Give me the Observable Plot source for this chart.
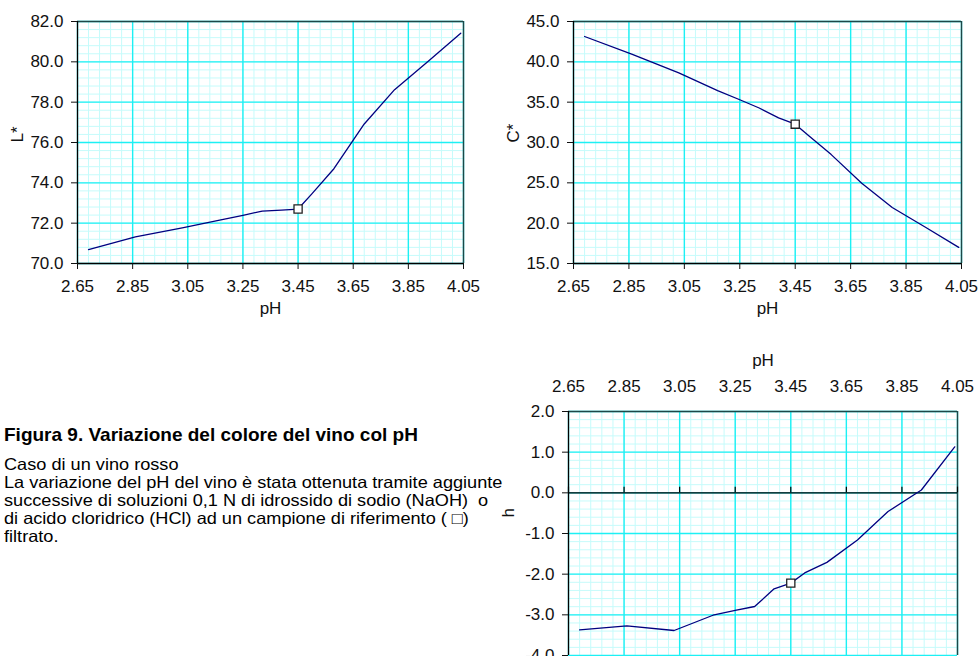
<!DOCTYPE html>
<html><head><meta charset="utf-8">
<script src="https://cdn.jsdelivr.net/npm/d3@7"></script>
<script src="https://cdn.jsdelivr.net/npm/@observablehq/plot@0.6"></script>
<style>
html,body{margin:0;padding:0;background:#fff}
body{width:978px;height:656px;overflow:hidden;position:relative;font-family:"Liberation Sans",Arial,sans-serif;color:#000}
.panel{position:absolute}
#title{position:absolute;left:4px;top:424px;font-weight:bold;font-size:19px;line-height:22px;white-space:nowrap}
#caption{position:absolute;left:4px;top:455px;font-size:16.5px;line-height:18px;white-space:nowrap;transform:scaleX(1.10);transform-origin:0 0}
</style></head><body>
<div id="p1" class="panel" style="left:0;top:0"></div>
<div id="p2" class="panel" style="left:490px;top:0"></div>
<div id="p3" class="panel" style="left:490px;top:340px"></div>
<div id="title">Figura 9. Variazione del colore del vino col pH</div>
<div id="caption">Caso di un vino rosso<br>La variazione del pH del vino è stata ottenuta tramite aggiunte<br>successive di soluzioni 0,1 N di idrossido di sodio (NaOH)&nbsp; o<br>di acido cloridrico (HCl) ad un campione di riferimento ( □)<br>filtrato.</div>
<script>
// ---- data ----
const pH    = [2.69, 2.86, 3.03, 3.17, 3.25, 3.32, 3.39, 3.45, 3.50, 3.58, 3.69, 3.80, 3.92, 4.04];
const Lstar = [70.69, 71.32, 71.77, 72.16, 72.39, 72.60, 72.65, 72.70, 73.45, 74.70, 76.92, 78.62, 80.00, 81.42];
const Cstar = [43.14, 40.96, 38.62, 36.43, 35.30, 34.28, 33.05, 32.27, 30.80, 28.50, 24.95, 21.95, 19.50, 17.00];
const hue   = [-3.37, -3.27, -3.385, -3.01, -2.89, -2.795, -2.36, -2.22, -1.97, -1.71, -1.16, -0.46, 0.07, 1.13];
const refPH = 3.45;
const xTicks = [2.65, 2.85, 3.05, 3.25, 3.45, 3.65, 3.85, 4.05];
const LTicks = [70, 72, 74, 76, 78, 80, 82];
const CTicks = [15, 20, 25, 30, 35, 40, 45];
const hTicks = [-4, -3, -2, -1, 0, 1, 2];

const rows = pH.map((p, i) => ({pH: p, L: Lstar[i], C: Cstar[i], h: hue[i]}));
const minor = (lo, hi, n) => d3.range(0, n + 1).map(i => lo + (hi - lo) * i / n);
const fmt1 = d => d.toFixed(1);
const fmt2 = d => d.toFixed(2);

const MINOR = "#c6fbfb", MAJOR = "#1cf0f4", FRAME = "#1d4848", LINE = "#000080";
const style = {fontFamily: "Liberation Sans, Arial, sans-serif", fontSize: "17px", color: "#111", background: "transparent", overflow: "visible"};

function panel({key, yTicks, yMinorN, yLabel, width, height, margin, xTop, yLabelDy = 0, pHdy}) {
  const y0 = yTicks[0], y1 = yTicks[yTicks.length - 1];
  const marks = [
    Plot.ruleX(minor(2.65, 4.05, 35), {stroke: MINOR, strokeWidth: 1}),
    Plot.ruleY(minor(y0, y1, yMinorN), {stroke: MINOR, strokeWidth: 1}),
    Plot.ruleX(xTicks, {stroke: MAJOR, strokeWidth: 1.4}),
    Plot.ruleY(yTicks, {stroke: MAJOR, strokeWidth: 1.4}),
    Plot.ruleY([y1], {stroke: FRAME, strokeWidth: 1.4}),
    Plot.ruleX([4.05], {stroke: FRAME, strokeWidth: 1.4}),
    Plot.ruleX([2.65], {stroke: "#000", strokeWidth: 1.3}),
    Plot.axisY(yTicks, {tickSize: 6, tickPadding: 8, tickFormat: fmt1, label: null}),
    Plot.text([yLabel], {text: d => d, frameAnchor: "left", dx: -60, dy: yLabelDy, rotate: -90, fontSize: 17})
  ];
  if (!xTop) {
    marks.push(
      Plot.ruleY([y0], {stroke: "#000", strokeWidth: 1.3}),
      Plot.axisX(xTicks, {anchor: "bottom", tickSize: 6, tickPadding: 10, tickFormat: fmt2, label: null}),
      Plot.text(["pH"], {text: d => d, frameAnchor: "bottom", dy: pHdy, fontSize: 17})
    );
  } else {
    marks.push(
      Plot.ruleY([0], {stroke: "#000", strokeWidth: 1.3}),
      Plot.ruleX(xTicks, {y1: 0, y2: 0.14, stroke: "#000", strokeWidth: 1.2}),
      Plot.axisX(xTicks, {anchor: "top", tickSize: 0, tickPadding: 20, tickFormat: fmt2, label: null}),
      Plot.text(["pH"], {text: d => d, frameAnchor: "top", dy: pHdy, fontSize: 17})
    );
  }
  marks.push(
    Plot.line(rows, {x: "pH", y: key, stroke: LINE, strokeWidth: 1.3}),
    Plot.dot(rows.filter(d => d.pH === refPH), {x: "pH", y: key, symbol: "square", r: 4.6, fill: "white", stroke: "#222", strokeWidth: 1.3})
  );
  return Plot.plot({
    width, height,
    marginLeft: margin[0], marginRight: margin[1], marginTop: margin[2], marginBottom: margin[3],
    style,
    x: {domain: [2.65, 4.05]},
    y: {domain: [y0, y1]},
    marks
  });
}

document.getElementById("p1").append(panel({
  key: "L", yTicks: LTicks, yMinorN: 30, yLabel: "L*", width: 490, height: 330, margin: [77, 27, 21, 67], pHdy: 50
}));
document.getElementById("p2").append(panel({
  key: "C", yTicks: CTicks, yMinorN: 30, yLabel: "C*", width: 488, height: 330, margin: [83, 17, 21, 67], pHdy: 50
}));
document.getElementById("p3").append(panel({
  key: "h", yTicks: hTicks, yMinorN: 30, yLabel: "h", width: 488, height: 316, margin: [78, 21, 71, 1], xTop: true, yLabelDy: -16, pHdy: -58
}));
</script>
</body></html>
